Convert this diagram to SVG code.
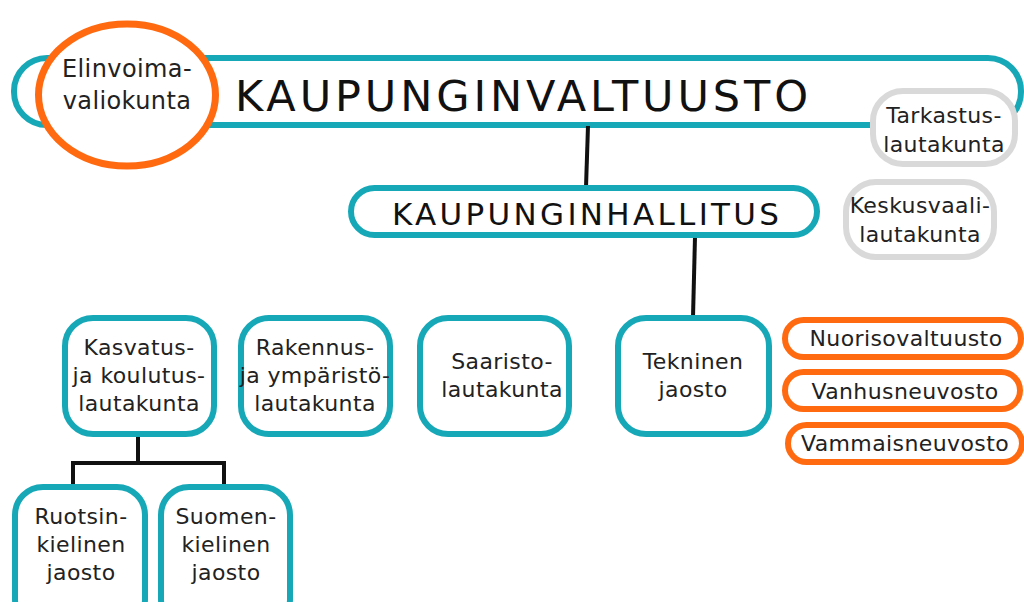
<svg xmlns="http://www.w3.org/2000/svg" width="1024" height="602" viewBox="0 0 1024 602">
<style>
.t{fill:#fff;stroke:#17a8b8;stroke-width:6}
.o{fill:#fff;stroke:#ff6a10;stroke-width:6}
.g{fill:#fff;stroke:#d9d9d9;stroke-width:6}
.c{stroke:#111;stroke-width:4;fill:none}
text{font-family:"DejaVu Sans","Liberation Sans",sans-serif;fill:#222;font-size:22px;letter-spacing:0.4px;text-anchor:middle}
text.big{text-anchor:start;fill:#111;font-size:43px;letter-spacing:0}
text.mid{text-anchor:start;fill:#111;font-size:31px;letter-spacing:0}
text.el{font-size:24px}
</style>
<rect width="1024" height="602" fill="#fff"/>
<g id="kaupunginvaltuusto">
<rect class="t" x="14" y="58" width="1007" height="67" rx="33"/>
<text class="big" x="235" y="111" textLength="573" lengthAdjust="spacing">KAUPUNGINVALTUUSTO</text>
</g>
<g id="connectors">
<line class="c" x1="588" y1="126" x2="586" y2="187"/>
<line class="c" x1="695" y1="237" x2="693" y2="317"/>
<polyline class="c" points="138,436 138,463"/>
<polyline class="c" points="73,486 73,463 224,463 224,486"/>
</g>
<g id="elinvoimavaliokunta">
<ellipse class="o" cx="127" cy="95" rx="88.5" ry="71" style="stroke-width:7"/>
<text class="el" x="127" y="77">Elinvoima-</text>
<text class="el" x="127" y="109">valiokunta</text>
</g>
<g id="tarkastuslautakunta">
<rect class="g" x="873" y="91" width="142" height="73" rx="30"/>
<text x="944" y="123">Tarkastus-</text>
<text x="944" y="152">lautakunta</text>
</g>
<g id="kaupunginhallitus">
<rect class="t" x="351" y="188" width="466" height="47" rx="23.5"/>
<text class="mid" x="392" y="225" textLength="387" lengthAdjust="spacing">KAUPUNGINHALLITUS</text>
</g>
<g id="keskusvaalilautakunta">
<rect class="g" x="846" y="182" width="148" height="75" rx="30"/>
<text x="920" y="213">Keskusvaali-</text>
<text x="920" y="242">lautakunta</text>
</g>
<g id="kasvatus">
<rect class="t" x="65" y="318" width="149" height="116" rx="28"/>
<text x="139" y="355">Kasvatus-</text>
<text x="139" y="383">ja koulutus-</text>
<text x="139" y="411">lautakunta</text>
</g>
<g id="rakennus">
<rect class="t" x="241" y="318" width="149" height="116" rx="28"/>
<text x="315" y="355">Rakennus-</text>
<text x="315" y="383">ja ympäristö-</text>
<text x="315" y="411">lautakunta</text>
</g>
<g id="saaristo">
<rect class="t" x="420" y="318" width="149" height="116" rx="28"/>
<text x="502" y="369">Saaristo-</text>
<text x="502" y="397">lautakunta</text>
</g>
<g id="tekninen">
<rect class="t" x="618" y="318" width="151" height="116" rx="28"/>
<text x="693" y="369">Tekninen</text>
<text x="693" y="397">jaosto</text>
</g>
<g id="nuorisovaltuusto">
<rect class="o" x="785" y="320" width="236" height="37" rx="18.5"/>
<text x="906" y="346">Nuorisovaltuusto</text>
</g>
<g id="vanhusneuvosto">
<rect class="o" x="785" y="372" width="235" height="37" rx="18.5"/>
<text x="905" y="399">Vanhusneuvosto</text>
</g>
<g id="vammaisneuvosto">
<rect class="o" x="788" y="425" width="234" height="37" rx="18.5"/>
<text x="905" y="451">Vammaisneuvosto</text>
</g>
<g id="ruotsinkielinen">
<rect class="t" x="15" y="487" width="130" height="140" rx="28"/>
<text x="81" y="524">Ruotsin-</text>
<text x="81" y="552">kielinen</text>
<text x="81" y="580">jaosto</text>
</g>
<g id="suomenkielinen">
<rect class="t" x="161" y="487" width="129" height="140" rx="28"/>
<text x="226" y="524">Suomen-</text>
<text x="226" y="552">kielinen</text>
<text x="226" y="580">jaosto</text>
</g>
</svg>
